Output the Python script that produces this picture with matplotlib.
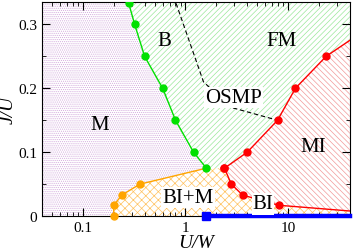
import matplotlib
matplotlib.use("Agg")
import matplotlib.pyplot as plt
from matplotlib import ticker

# boundaries (U/W , J/U)
green_u = [0.28, 0.32, 0.40, 0.60, 0.80, 1.2, 1.6]
green_j = [0.333, 0.30, 0.25, 0.20, 0.15, 0.10, 0.075]
red_up_u = [2.4, 4.0, 7.9, 11.8, 23.5, 40]
red_up_j = [0.075, 0.10, 0.15, 0.20, 0.25, 0.275]
red_lo_u = [2.4, 2.8, 3.6, 8.1, 40]
red_lo_j = [0.075, 0.05, 0.033, 0.017, 0.008]
orange_u = [0.2, 0.2, 0.24, 0.36, 1.6]
orange_j = [0.0, 0.0167, 0.033, 0.05, 0.075]
dash_u = [0.81, 1.5, 2.8, 7.9]
dash_j = [0.333, 0.21, 0.17, 0.15]
blue_u = [1.6, 40]
blue_j = [0.0, 0.0]

xmin, xmax = 0.04, 40
ymin, ymax = 0.0, 0.335

plt.rcParams['font.family'] = ['Liberation Serif', 'DejaVu Serif']
plt.rcParams['hatch.linewidth'] = 0.5

fig = plt.figure(figsize=(3.53, 2.51), dpi=100)
ax = fig.add_axes([0.119, 0.135, 0.872, 0.853])

# region M (dots)
mx = [xmin] + orange_u + green_u[::-1] + [xmin]
my = [0.0] + orange_j + green_j[::-1] + [ymax]
ax.fill(mx, my, facecolor='none', edgecolor='#d2a8dc', lw=0, hatch='........')
# region B / FM
gx = green_u + red_up_u + [xmax, green_u[0]]
gy = green_j + red_up_j + [ymax, ymax]
ax.fill(gx, gy, facecolor='none', edgecolor='#9be89b', lw=0, hatch='//////')
# region MI
rx = red_up_u + red_lo_u[::-1]
ry = red_up_j + red_lo_j[::-1]
ax.fill(rx, ry, facecolor='none', edgecolor='#f29a9a', lw=0, hatch='\\\\\\\\\\\\')
# region BI+M / BI
ox = orange_u + red_lo_u + [xmax]
oy = orange_j + red_lo_j + [0.0]
ax.fill(ox, oy, facecolor='none', edgecolor='#ffc260', lw=0, hatch='xxxx')

ax.plot(dash_u, dash_j, 'k--', lw=0.8, dashes=(4, 2.5))
ax.plot(orange_u, orange_j, '-o', color='#ffa500', ms=5, lw=1, clip_on=False,
        markevery=[0, 1, 2, 3], zorder=4)
ax.plot(red_lo_u, red_lo_j, '-o', color='#ff0000', ms=5, lw=1, markevery=[0, 1, 2, 3], zorder=4)
ax.plot(red_up_u, red_up_j, '-o', color='#ff0000', ms=5, lw=1, markevery=[0, 1, 2, 3, 4], zorder=4)
ax.plot(green_u, green_j, '-o', color='#00e000', ms=5, lw=1, zorder=5)
ax.plot(blue_u, blue_j, '-', color='#0000ff', lw=3.2, clip_on=False, zorder=6)
ax.plot(blue_u[:1], blue_j[:1], 's', color='#0000ff', ms=6, clip_on=False, zorder=6)

box = dict(facecolor='white', edgecolor='none', pad=0.8)
ax.text(0.62, 0.274, 'B', fontsize=15, ha='center', va='center')
ax.text(8.65, 0.274, 'FM', fontsize=15, ha='center', va='center')
ax.text(2.96, 0.186, 'OSMP', fontsize=15, ha='center', va='center', bbox=box, zorder=7)
ax.text(0.145, 0.143, 'M', fontsize=15, ha='center', va='center')
ax.text(17.4, 0.109, 'MI', fontsize=15, ha='center', va='center')
ax.text(1.06, 0.029, 'BI+M', fontsize=15, ha='center', va='center', bbox=box, zorder=7)
ax.text(5.7, 0.019, 'BI', fontsize=15, ha='center', va='center', bbox=box, zorder=7)

ax.set_xscale('log')
ax.set_xlim(xmin, xmax)
ax.set_ylim(ymin, ymax)
ax.set_xticks([0.1, 1, 10])
ax.xaxis.set_major_formatter(ticker.FixedFormatter(['0.1', '1', '10']))
ax.set_yticks([0, 0.1, 0.2, 0.3])
ax.set_yticklabels(['0', '0.1', '0.2', '0.3'])
ax.yaxis.set_minor_locator(ticker.MultipleLocator(0.05))
ax.tick_params(which='both', direction='in', top=True, right=True, labelsize=11)
ax.tick_params(which='major', length=6)
ax.tick_params(which='minor', length=3)
ax.set_xlabel('U/W', fontsize=14, style='italic', labelpad=0)
ax.set_ylabel('J/U', fontsize=14, style='italic')
ax.yaxis.set_label_coords(-0.083, 0.5)

fig.savefig('out.png', dpi=100)
